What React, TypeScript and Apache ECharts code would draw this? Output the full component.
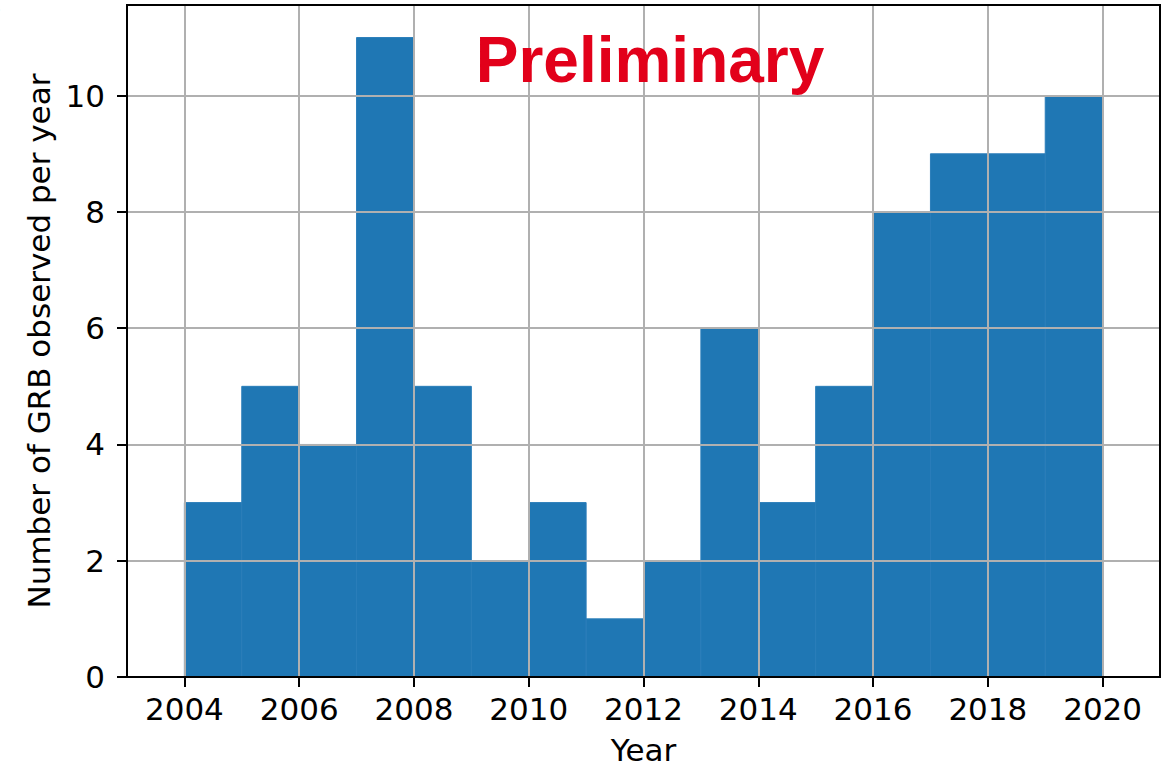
import React, { useEffect, useRef } from "react";
import * as echarts from "echarts";

const binStarts = [2004, 2005, 2006, 2007, 2008, 2009, 2010, 2011, 2012, 2013, 2014, 2015, 2016, 2017, 2018, 2019];
const binWidth = 1;
const counts = [3, 5, 4, 11, 5, 2, 3, 1, 2, 6, 3, 5, 8, 9, 9, 10];
const xTicks = [2004, 2006, 2008, 2010, 2012, 2014, 2016, 2018, 2020];
const yTicks = [0, 2, 4, 6, 8, 10];
const xLabel = "Year";
const yLabel = "Number of GRB observed per year";
const stamp = "Preliminary";

export default function App() {
  const ref = useRef<HTMLDivElement>(null);
  useEffect(() => {
    if (!ref.current) return;
    const chart = echarts.init(ref.current, null, { renderer: "svg" });
    const data = binStarts.map((s, i) => [s, s + binWidth, counts[i]]);
    const tickFont = "DejaVu Sans";
    chart.setOption({
      animation: false,
      backgroundColor: "#ffffff",
      grid: { left: 127, right: 5, top: 5, bottom: 91, containLabel: false, outerBoundsMode: "none" },
      xAxis: {
        type: "value",
        min: 2003,
        max: 2021,
        z: 10,
        name: xLabel,
        nameLocation: "middle",
        nameGap: 57,
        nameTextStyle: { fontFamily: tickFont, fontSize: 31, color: "#000" },
        axisLine: { show: true, onZero: false, lineStyle: { color: "#000", width: 2 } },
        axisTick: { show: true, length: 10, customValues: xTicks, lineStyle: { color: "#000", width: 2 } },
        minorTick: { show: false },
        axisLabel: {
          customValues: xTicks,
          margin: 16,
          fontFamily: tickFont,
          fontSize: 31,
          color: "#000",
          formatter: (v: number) => String(v),
        },
        splitLine: { show: true, lineStyle: { color: "#b0b0b0", width: 2 } },
      },
      yAxis: {
        type: "value",
        min: 0,
        max: 11.56,
        z: 10,
        name: yLabel,
        nameLocation: "middle",
        nameGap: 73,
        nameTextStyle: { fontFamily: tickFont, fontSize: 31, color: "#000" },
        axisLine: { show: true, onZero: false, lineStyle: { color: "#000", width: 2 } },
        axisTick: { show: true, length: 10, customValues: yTicks, lineStyle: { color: "#000", width: 2 } },
        axisLabel: {
          customValues: yTicks,
          margin: 22,
          fontFamily: tickFont,
          fontSize: 31,
          color: "#000",
          formatter: (v: number) => String(v),
        },
        splitLine: { show: true, lineStyle: { color: "#b0b0b0", width: 2 } },
      },
      graphic: [
        {
          type: "rect",
          shape: { x: 127, y: 5, width: 1033, height: 672 },
          style: { fill: "none", stroke: "#000", lineWidth: 2 },
          z: 20,
          silent: true,
        },
        {
          type: "text",
          x: 650,
          y: 60,
          z: 30,
          style: {
            text: stamp,
            fontFamily: "Liberation Sans",
            fontWeight: "bold",
            fontSize: 64,
            fill: "#e2001a",
            align: "center",
            verticalAlign: "middle",
          },
        },
        {
          type: "text",
          x: -14,
          y: -14,
          style: { text: ")", fontFamily: tickFont, fontSize: 44, fill: "#000" },
        },
      ],
      series: [
        {
          type: "custom",
          data,
          encode: { x: [0, 1], y: 2 },
          renderItem: (params: any, api: any) => {
            const p0 = api.coord([api.value(0), api.value(2)]);
            const p1 = api.coord([api.value(1), 0]);
            return {
              type: "rect",
              shape: { x: p0[0], y: p0[1], width: p1[0] - p0[0], height: p1[1] - p0[1] },
              style: { fill: "#1f77b4", stroke: "#2a7db9", lineWidth: 1 },
            };
          },
        },
      ],
    });
    return () => chart.dispose();
  }, []);
  return (
    <div
      ref={ref}
      style={{ position: "fixed", left: 0, top: 0, width: 1165, height: 768, background: "#fff" }}
    />
  );
}
